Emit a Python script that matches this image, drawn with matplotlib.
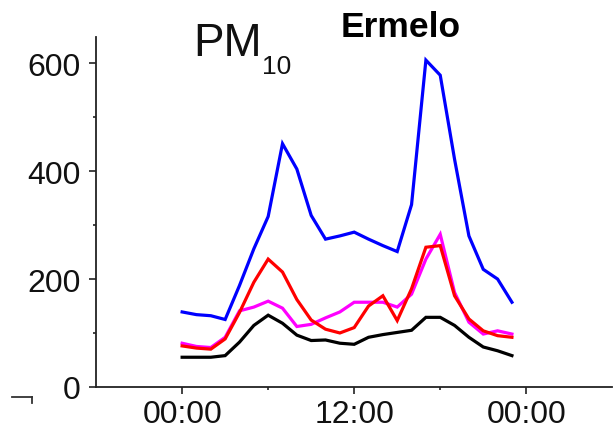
import matplotlib
matplotlib.use("Agg")
import matplotlib.pyplot as plt
from matplotlib.lines import Line2D
from matplotlib.ticker import FixedLocator, FixedFormatter

plt.rcParams['font.family'] = ['Liberation Sans', 'DejaVu Sans']

# Hourly mean PM10 at Ermelo (hour of day 0..23)
hours = list(range(24))
pm_blue = [139, 134, 132, 125, 188, 256, 316, 451, 404, 318, 274, 280,
           287, 274, 262, 251, 338, 606, 578, 422, 280, 218, 200, 157]
pm_red = [76, 72, 70, 89, 138, 194, 237, 213, 162, 124, 107, 100,
          110, 150, 169, 123, 182, 259, 262, 169, 126, 104, 95, 92]
pm_magenta = [81, 75, 73, 92, 141, 148, 159, 146, 112, 116, 128, 139,
              157, 157, 157, 148, 172, 237, 283, 175, 120, 98, 104, 98]
pm_black = [55, 55, 55, 58, 83, 114, 133, 118, 96, 86, 87, 81,
            79, 92, 97, 101, 105, 129, 129, 114, 92, 74, 67, 58]

series = [(pm_blue, '#0000ff'), (pm_red, '#ff0000'),
          (pm_magenta, '#ff00ff'), (pm_black, '#000000')]

x_major = [0, 12, 24]
x_major_labels = ['00:00', '12:00', '00:00']
x_minor = [6, 18]
y_major = [0, 200, 400, 600]
y_minor = [100, 300, 500]

fig = plt.figure(figsize=(6.16, 4.31), dpi=100)
ax = fig.add_axes([0.156, 0.1, 0.838, 0.812])

for vals, col in reversed(series):
    ax.plot(hours, vals, color=col, lw=2.3, solid_joinstyle='miter')

ax.set_xlim(-6, 30)
ax.set_ylim(0, 649)

ax.xaxis.set_major_locator(FixedLocator(x_major))
ax.xaxis.set_major_formatter(FixedFormatter(x_major_labels))
ax.xaxis.set_minor_locator(FixedLocator(x_minor))
ax.yaxis.set_major_locator(FixedLocator(y_major))
ax.yaxis.set_minor_locator(FixedLocator(y_minor))

for s in ('top', 'right'):
    ax.spines[s].set_visible(False)
for s in ('left', 'bottom'):
    ax.spines[s].set_linewidth(1.3)
    ax.spines[s].set_color('#222222')

ax.tick_params(axis='both', which='major', direction='out', length=5,
               width=1.2, color='#222222', labelsize=23, labelcolor='#111111')
ax.tick_params(axis='x', which='major', pad=4)
ax.tick_params(axis='y', which='major', pad=6)
ax.tick_params(axis='both', which='minor', direction='out', length=2.5,
               width=1.2, color='#222222')

# title block: species with subscript, and site name
fig.text(0.313, 0.870, 'PM', fontsize=33, color='#111111',
         ha='left', va='baseline')
fig.text(0.425, 0.828, '10', fontsize=19, color='#111111',
         ha='left', va='baseline')
fig.text(0.650, 0.914, 'Ermelo', fontsize=25.5, fontweight='bold',
         color='black', ha='center', va='baseline')

# small stray mark at lower left
fig.add_artist(Line2D([0.02, 0.052], [0.077, 0.077], color='#333333', lw=1.3))
fig.add_artist(Line2D([0.052, 0.052], [0.077, 0.063], color='#333333', lw=1.3))

fig.savefig('out.png', dpi=100)
